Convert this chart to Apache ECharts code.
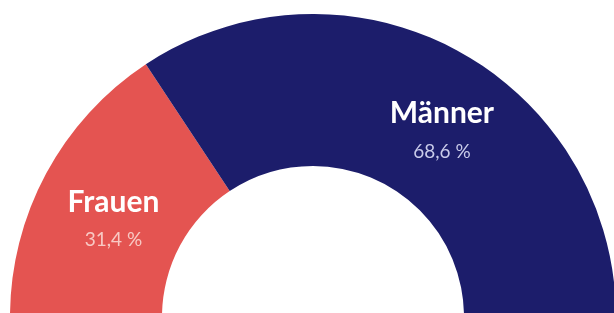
<!DOCTYPE html>
<html>
<head>
<meta charset="utf-8">
<script src="https://cdn.jsdelivr.net/npm/echarts@6/dist/echarts.min.js"></script>
<style>
html,body{margin:0;padding:0;background:#fff;}
#c{width:614px;height:313px;}
</style>
</head>
<body>
<div id="c"></div>
<script>
const categories = ['Frauen', 'Männer'];
const values = [31.4, 68.6];
const valueLabels = ['31,4 %', '68,6 %'];

const colors = ['#E45451', '#1C1D6B'];
const pctColors = ['#F8C9C4', '#C9CBEA'];
const labelShift = [[3, 10], [20, 15]];

const chart = echarts.init(document.getElementById('c'), null, {renderer: 'canvas'});
chart.setOption({
  backgroundColor: '#ffffff',
  animation: false,
  series: [{
    type: 'pie',
    center: [313, 317],
    radius: [151, 303],
    startAngle: 180,
    endAngle: 0,
    clockwise: true,
    silent: true,
    itemStyle: {borderWidth: 0},
    labelLine: {show: false},
    label: {
      show: true,
      position: 'inside',
      fontFamily: 'Lato',
      formatter: function (p) {
        return '{n|' + p.name + '}\n{p' + p.dataIndex + '|' + valueLabels[p.dataIndex] + '}';
      },
      rich: {
        n: {fontFamily: 'Lato', fontWeight: 'bold', fontSize: 30, color: '#ffffff', lineHeight: 44, align: 'center'},
        p0: {fontFamily: 'Lato', fontSize: 19, color: pctColors[0], lineHeight: 32, align: 'center'},
        p1: {fontFamily: 'Lato', fontSize: 19, color: pctColors[1], lineHeight: 32, align: 'center'}
      }
    },
    labelLayout: function (params) {
      const s = labelShift[params.dataIndex];
      return {dx: s[0], dy: s[1]};
    },
    data: categories.map((c, i) => ({name: c, value: values[i], itemStyle: {color: colors[i]}}))
  }]
});
</script>
</body>
</html>
